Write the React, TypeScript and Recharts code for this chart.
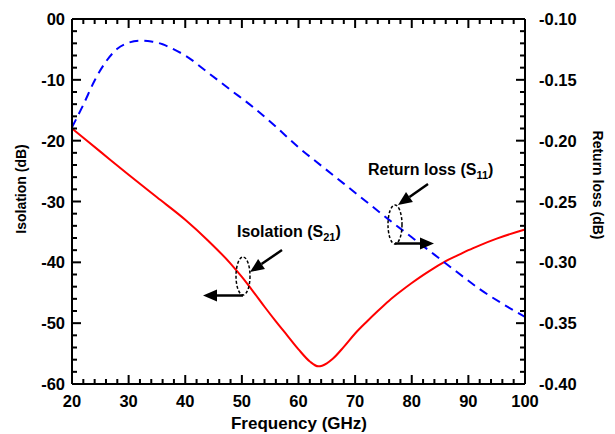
import React from 'react';
import { LineChart, Line, XAxis, YAxis } from 'recharts';

// Isolation (S21), left axis, dB
const isoFreq = [20, 25, 30, 35, 40, 44, 48, 50, 52, 54, 56, 58, 60, 62, 63.5, 65, 66, 68, 70, 72, 74, 76, 78, 80, 82, 84, 86, 88, 90, 92, 95, 100];
const isoDb = [-18.0, -21.8, -25.6, -29.3, -33.0, -36.4, -40.2, -42.4, -44.8, -47.3, -49.7, -52.0, -54.3, -56.3, -57.1, -56.6, -55.9, -53.9, -51.7, -49.8, -48.0, -46.3, -44.8, -43.4, -42.1, -40.9, -39.8, -38.9, -38.0, -37.2, -36.1, -34.6];

// Return loss (S11), right axis, dB
const rlFreq = [20, 22, 24, 26, 28, 30, 32, 34, 36, 38, 40, 44, 48, 52, 56, 60, 64, 68, 72, 76, 80, 84, 88, 92, 96, 100];
const rlDb = [-0.189, -0.1705, -0.1505, -0.1350, -0.1245, -0.1195, -0.1178, -0.1184, -0.1208, -0.1250, -0.1300, -0.1440, -0.1583, -0.1725, -0.1885, -0.2055, -0.2205, -0.2353, -0.2502, -0.2651, -0.2794, -0.2937, -0.3080, -0.3220, -0.3340, -0.3448];

const xTicks = [20, 22, 24, 26, 28, 30, 32, 34, 36, 38, 40, 42, 44, 46, 48, 50, 52, 54, 56, 58, 60, 62, 64, 66, 68, 70, 72, 74, 76, 78, 80, 82, 84, 86, 88, 90, 92, 94, 96, 98, 100];
const leftTicks = [-60, -58, -56, -54, -52, -50, -48, -46, -44, -42, -40, -38, -36, -34, -32, -30, -28, -26, -24, -22, -20, -18, -16, -14, -12, -10, -8, -6, -4, -2, 0];
const rightTicks = [-0.40, -0.39, -0.38, -0.37, -0.36, -0.35, -0.34, -0.33, -0.32, -0.31, -0.30, -0.29, -0.28, -0.27, -0.26, -0.25, -0.24, -0.23, -0.22, -0.21, -0.20, -0.19, -0.18, -0.17, -0.16, -0.15, -0.14, -0.13, -0.12, -0.11, -0.10];

const isoData = isoFreq.map((f, i) => ({ f, v: isoDb[i] }));
const rlData = rlFreq.map((f, i) => ({ f, v: rlDb[i] }));

const FONT = '"Liberation Sans", Arial, Helvetica, sans-serif';
const W = 615;
const H = 434;
const TW = 2;

const BottomTick = (props: any) => {
  const { x, y, payload } = props;
  const v = payload.value;
  const major = Math.round(v) % 10 === 0;
  const len = major ? 9 : 5;
  return (
    <g>
      <rect x={x - TW / 2} y={y - len} width={TW} height={len} fill="#000" />
      {major && (
        <text x={x} y={y + 23} textAnchor="middle" fontFamily={FONT} fontWeight="bold" fontSize={16.5} fill="#000">
          {String(v)}
        </text>
      )}
    </g>
  );
};

const TopTick = (props: any) => {
  const { x, y, payload } = props;
  const major = Math.round(payload.value) % 10 === 0;
  const len = major ? 9 : 5;
  return <rect x={x - TW / 2} y={y} width={TW} height={len} fill="#000" />;
};

const LeftTick = (props: any) => {
  const { x, y, payload } = props;
  const v = payload.value;
  const major = Math.round(v) % 10 === 0;
  const len = major ? 9 : 5;
  return (
    <g>
      <rect x={x} y={y - TW / 2} width={len} height={TW} fill="#000" />
      {major && (
        <text x={x - 7} y={y + 6} textAnchor="end" fontFamily={FONT} fontWeight="bold" fontSize={16.5} fill="#000">
          {v === 0 ? '00' : String(v)}
        </text>
      )}
    </g>
  );
};

const RightTick = (props: any) => {
  const { x, y, payload } = props;
  const v = payload.value;
  const major = Math.round(v * 100) % 5 === 0;
  const len = major ? 9 : 5;
  return (
    <g>
      <rect x={x - len} y={y - TW / 2} width={len} height={TW} fill="#000" />
      {major && (
        <text x={x + 14} y={y + 6} textAnchor="start" fontFamily={FONT} fontWeight="bold" fontSize={16.5} fill="#000">
          {v.toFixed(2)}
        </text>
      )}
    </g>
  );
};

function Arrow({ x1, y1, x2, y2, len = 14, wid = 12 }: any) {
  const dx = x2 - x1;
  const dy = y2 - y1;
  const d = Math.sqrt(dx * dx + dy * dy);
  const ux = dx / d;
  const uy = dy / d;
  const bx = x2 - ux * len;
  const by = y2 - uy * len;
  const nx = -uy * (wid / 2);
  const ny = ux * (wid / 2);
  return (
    <g>
      <path d={`M${x1},${y1} L${bx},${by}`} stroke="#000" strokeWidth={2.5} fill="none" />
      <polygon points={`${x2},${y2} ${bx + nx},${by + ny} ${bx - nx},${by - ny}`} fill="#000" />
    </g>
  );
}

const axisLineStyle = { stroke: '#000', strokeWidth: 2 };

export default function App() {
  return (
    <div style={{ position: 'absolute', left: 0, top: 0, width: W, height: H, background: '#fff' }}>
      <LineChart width={W} height={H} margin={{ top: 18, right: 0, bottom: 0, left: 0 }} data={isoData}>
        <XAxis
          xAxisId="bottom"
          dataKey="f"
          type="number"
          domain={[20, 100]}
          ticks={xTicks}
          interval={0}
          height={50}
          tickSize={0}
          tickMargin={0}
          axisLine={axisLineStyle}
          tick={<BottomTick />}
        />
        <XAxis
          xAxisId="top"
          orientation="top"
          dataKey="f"
          type="number"
          domain={[20, 100]}
          ticks={xTicks}
          interval={0}
          height={1}
          tickSize={0}
          tickMargin={0}
          axisLine={axisLineStyle}
          tick={<TopTick />}
        />
        <YAxis
          yAxisId="left"
          type="number"
          domain={[-60, 0]}
          ticks={leftTicks}
          interval={0}
          width={72}
          tickSize={0}
          tickMargin={0}
          axisLine={axisLineStyle}
          tick={<LeftTick />}
        />
        <YAxis
          yAxisId="right"
          orientation="right"
          type="number"
          domain={[-0.4, -0.1]}
          ticks={rightTicks}
          interval={0}
          width={90}
          tickSize={0}
          tickMargin={0}
          axisLine={axisLineStyle}
          tick={<RightTick />}
        />
        <Line
          data={isoData}
          dataKey="v"
          xAxisId="bottom"
          yAxisId="left"
          type="monotone"
          stroke="#ff0000"
          strokeWidth={2}
          dot={false}
          isAnimationActive={false}
        />
        <Line
          data={rlData}
          dataKey="v"
          xAxisId="bottom"
          yAxisId="right"
          type="monotone"
          stroke="#0000ff"
          strokeWidth={2}
          strokeDasharray="9 6"
          dot={false}
          isAnimationActive={false}
        />
      </LineChart>
      <svg width={W} height={H} style={{ position: 'absolute', left: 0, top: 0, pointerEvents: 'none' }}>
        <text
          transform="translate(26,189) rotate(-90)"
          textAnchor="middle"
          fontFamily={FONT}
          fontWeight="bold"
          fontSize={14}
          fill="#000"
        >
          Isolation (dB)
        </text>
        <text
          transform="translate(593,185) rotate(90)"
          textAnchor="middle"
          fontFamily={FONT}
          fontWeight="bold"
          fontSize={14}
          fill="#000"
        >
          Return loss (dB)
        </text>
        <text x={299} y={429} textAnchor="middle" fontFamily={FONT} fontWeight="bold" fontSize={17} fill="#000">
          Frequency (GHz)
        </text>

        <text x={368} y={175} fontFamily={FONT} fontWeight="bold" fontSize={16} fill="#000">
          Return loss (S<tspan fontSize={11} dy={4}>11</tspan><tspan dy={-4}>)</tspan>
        </text>
        <ellipse cx={395} cy={224.5} rx={7} ry={19.5} fill="none" stroke="#000" strokeWidth={1.5} strokeDasharray="3 2" />
        <Arrow x1={428} y1={184} x2={398} y2={205} />
        <Arrow x1={395} y1={243.5} x2={434} y2={243.5} />

        <text x={237} y={237} fontFamily={FONT} fontWeight="bold" fontSize={16} fill="#000">
          Isolation (S<tspan fontSize={11} dy={4}>21</tspan><tspan dy={-4}>)</tspan>
        </text>
        <ellipse cx={243} cy={276} rx={7} ry={19} fill="none" stroke="#000" strokeWidth={1.5} strokeDasharray="3 2" />
        <Arrow x1={282} y1={250} x2={250} y2={272} />
        <Arrow x1={243} y1={295.5} x2={203} y2={295.5} />
      </svg>
    </div>
  );
}
